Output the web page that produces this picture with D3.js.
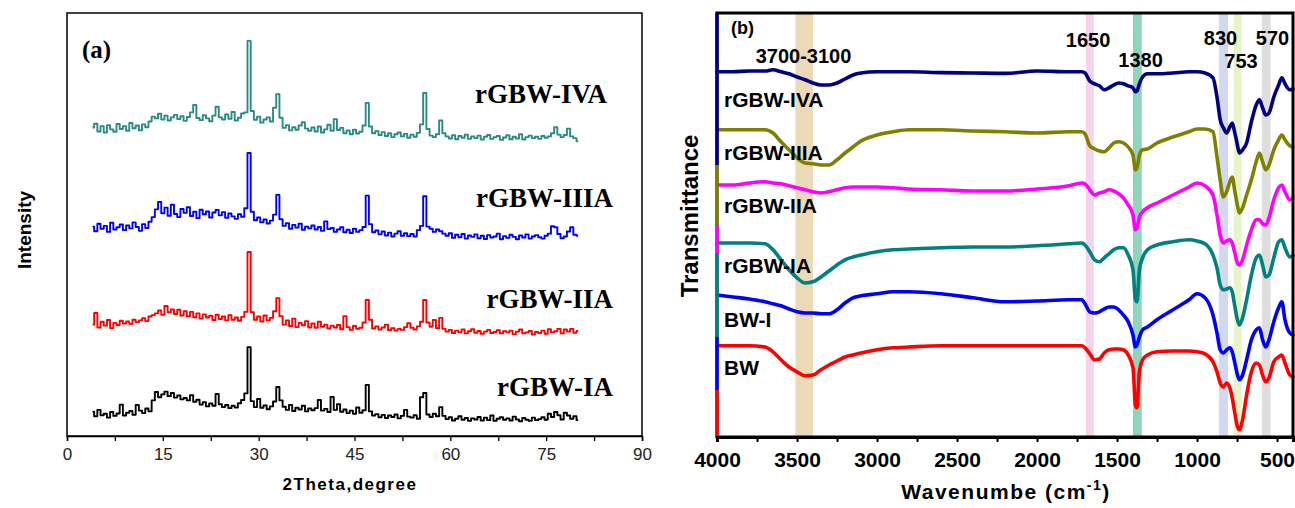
<!DOCTYPE html>
<html><head><meta charset="utf-8">
<script src="https://cdn.jsdelivr.net/npm/d3@7"></script>
<style>body{margin:0;background:#fff}svg{display:block}</style>
</head><body>
<svg id="c" width="1295" height="508"></svg>
<script>
// ---------------- (a) XRD data ----------------
const xrdLabels = ["rGBW-IVA", "rGBW-IIIA", "rGBW-IIA", "rGBW-IA"];
const xrdColors = ["#2a8a84", "#0000ff", "#ff0000", "#000000"];
const xrdOffsets = [78, 50, 22, 0];
const xrdStart = 4, xrdStep = 0.5;
const xrdTicks = [0, 15, 30, 45, 60, 75, 90];
const xrdIVA = [
  9.5,10.6,8.4,9.9,8.1,10.2,9.0,8.3,10.5,9.1,
  9.9,8.6,10.8,9.3,10.1,8.7,10.4,9.6,11.2,12.6,
  12.1,13.4,11.8,12.9,11.5,12.4,13.1,11.9,12.7,11.4,
  12.5,13.8,15.9,12.2,11.6,13.0,12.1,11.3,12.9,15.4,
  12.4,11.8,13.2,12.0,13.9,11.5,12.3,13.5,13.8,34.1,
  14.2,11.7,12.6,10.9,11.8,12.4,11.2,15.1,19.0,12.3,
  9.4,10.2,8.7,9.6,8.9,10.1,11.0,9.2,8.6,9.5,
  8.4,9.8,8.1,9.0,10.3,8.6,11.9,8.8,9.4,7.9,
  8.7,7.6,8.9,7.8,8.3,10.1,16.5,9.8,7.9,8.5,
  7.4,8.2,7.1,7.9,6.8,7.6,8.1,7.0,7.7,6.6,
  7.5,6.9,8.0,10.4,19.3,9.1,7.2,6.8,7.6,11.5,
  7.9,7.0,6.4,7.3,6.2,7.1,6.6,7.5,6.3,7.0,
  6.5,7.2,6.1,6.9,7.4,6.3,6.8,7.1,6.0,6.7,
  7.3,6.2,6.9,6.4,7.6,6.1,6.8,7.2,6.5,6.9,
  6.3,7.1,6.6,7.0,7.9,9.6,7.5,6.8,7.4,9.2,
  7.0,6.5,5.6];
const xrdIIIA = [
  9.4,8.1,10.2,8.8,9.6,7.9,10.5,8.6,9.2,10.0,
  8.4,9.7,8.9,10.6,9.3,8.2,10.1,9.0,10.8,12.1,
  14.3,16.4,13.2,14.8,12.5,15.6,13.0,12.1,14.4,13.3,
  14.9,12.4,13.6,11.8,14.2,12.9,13.7,12.0,13.4,14.1,
  12.6,13.5,11.9,13.1,12.3,11.6,12.9,12.2,14.6,30.3,
  13.6,11.2,12.0,10.6,11.4,10.3,11.1,12.8,18.4,11.5,
  9.6,10.4,8.8,9.9,9.1,10.2,8.5,9.4,8.9,9.7,
  8.6,9.3,8.2,10.9,8.7,9.0,7.9,8.6,9.2,7.8,
  8.5,7.6,8.8,7.9,8.4,9.3,18.2,10.1,7.8,8.3,
  7.2,8.0,6.9,7.7,6.6,7.4,8.1,6.8,7.5,6.7,
  7.3,6.6,8.4,9.6,18.0,9.4,8.8,7.9,8.6,8.1,
  7.4,6.8,7.5,6.2,7.1,6.4,7.3,6.0,6.9,6.5,
  7.2,6.1,6.8,5.9,7.0,6.3,6.6,7.4,5.8,6.7,
  6.2,7.1,6.5,5.8,6.9,6.3,7.2,6.0,6.6,7.0,
  6.4,6.0,6.8,7.4,9.5,9.2,7.3,6.1,6.6,8.0,
  9.2,7.1,6.8];
const xrdIIA = [
  9.6,12.9,8.8,10.4,9.3,10.9,8.6,10.1,9.5,10.7,
  9.9,10.5,9.8,11.0,10.3,10.8,11.4,10.6,11.9,12.3,
  12.8,13.6,12.4,14.9,13.1,13.9,12.6,13.8,12.2,13.4,
  12.0,13.2,11.7,12.8,11.3,12.5,11.6,12.1,10.9,12.4,
  11.2,11.9,10.8,12.3,11.0,11.6,10.7,11.8,13.2,30.2,
  13.1,11.0,11.9,10.5,12.2,10.8,11.5,13.4,17.1,12.0,
  9.6,10.8,9.2,11.3,8.9,10.1,9.4,10.6,8.8,9.9,
  8.7,10.4,9.0,9.6,8.5,9.3,8.8,9.5,8.3,12.0,
  8.9,8.1,9.2,8.4,8.7,10.2,16.6,11.0,8.5,9.1,
  8.2,8.8,9.6,8.0,8.6,7.9,8.4,8.1,8.9,10.0,
  8.7,8.2,9.1,10.4,16.6,10.2,9.0,10.9,8.6,11.5,
  8.4,7.6,8.1,7.2,7.9,7.4,8.2,7.1,7.7,8.3,
  7.3,7.8,7.0,7.6,8.1,7.2,7.5,8.0,7.1,7.7,
  7.4,7.9,6.9,7.6,8.2,7.1,7.4,7.8,6.8,7.5,
  7.2,7.9,7.0,8.3,7.4,7.7,8.4,7.1,8.2,7.6,
  8.4,7.3,7.8];
const xrdIA = [
  6.9,5.6,7.4,5.9,6.3,5.2,6.8,5.7,6.4,8.9,
  5.8,6.6,7.1,6.0,8.8,7.2,6.5,7.8,7.0,10.1,
  12.5,11.0,11.8,12.6,11.3,12.2,10.9,11.5,10.4,10.8,
  10.1,11.6,9.7,10.3,8.9,9.6,8.4,9.2,8.6,11.9,
  9.0,8.2,8.8,7.9,8.6,8.1,9.3,10.2,12.1,25.2,
  9.9,8.2,10.5,8.0,8.7,7.6,8.4,9.8,13.9,10.1,
  8.3,7.4,8.8,7.1,8.0,7.5,8.6,7.0,7.8,7.3,
  7.9,10.2,7.2,7.7,6.8,11.1,7.4,9.0,6.9,7.5,
  6.5,7.2,6.3,8.1,6.6,7.3,14.5,7.0,5.8,6.2,
  5.3,6.0,5.1,5.8,5.4,6.1,5.0,5.7,7.4,5.5,
  5.2,5.9,4.9,11.0,12.2,6.1,5.4,6.3,5.6,8.2,
  5.7,4.8,5.3,4.4,4.9,5.6,4.6,5.1,4.3,5.0,
  4.7,5.4,4.4,5.2,4.5,5.8,4.3,4.9,5.3,4.6,
  5.0,4.4,5.5,4.7,4.2,5.1,4.6,4.3,5.2,4.5,
  4.8,5.3,4.6,6.3,5.4,6.8,5.9,4.7,6.6,5.8,
  4.9,5.6,4.5];
const xrdSeries = [xrdIVA, xrdIIIA, xrdIIA, xrdIA];

// ---------------- (b) FTIR data ----------------
const ftirWave = [4000,3900,3800,3700,3650,3600,3550,3500,3450,3400,
  3350,3300,3250,3200,3150,3100,3000,2900,2800,2600,
  2400,2200,2000,1800,1720,1700,1670,1640,1610,1580,
  1550,1520,1490,1460,1430,1400,1385,1375,1360,1340,
  1310,1250,1150,1050,1000,950,900,875,855,835,
  815,795,780,765,750,735,715,690,660,630,
  610,590,570,550,520,490,470,450,420,400];
const ftirLabels = ["rGBW-IVA", "rGBW-IIIA", "rGBW-IIA", "rGBW-IA", "BW-I", "BW"];
const ftirColors = ["#000080", "#808000", "#ff00ff", "#008080", "#0000ff", "#ff0000"];
const ftirIVA = [
  91.3,91.3,91.5,91.5,91.8,91.3,90.8,90,89.3,88.5,
  88,88,88.5,89.5,90.5,91,91.3,91.3,91.3,91.1,
  91,90.9,91.5,91.3,91.3,91,89,88.3,87.8,86.8,
  87.3,88,88.5,88.3,87.8,87.3,86.3,86.5,88.3,90,
  90.8,90.8,91,91.3,91.3,91,89.8,85,79.3,77.3,
  76,77.5,78.5,76.3,73.5,71,71.8,73.5,78.8,83,
  84.3,82.3,80.5,81,85,88,89.8,88.3,86.8,87];
const ftirIIIA = [
  76.8,76.8,76.8,76.8,76,73.8,71.8,69.8,68.5,68.3,
  68,68,69.3,71,72.5,74,75.5,76.3,76.8,76.8,
  76.5,76.3,76,76.3,76.3,75.8,72.8,72,71.5,71.3,
  72.3,73.5,73.8,73.5,72.5,70.5,66.8,67.3,70.5,71.8,
  72,73.5,75,76.3,77,77,76.3,70,64.3,60,
  61.3,63.8,65,61.8,58.5,56,57.3,60.5,64.3,68.8,
  71,68.8,66.8,68,71.8,74.3,75.5,74.3,72.8,72.5];
const ftirIIA = [
  63,63,63.5,63.8,63.5,63.3,62.8,62.3,61.8,61.3,
  61,61.3,61.8,62.3,62.5,62.5,62.5,62.3,62,61.8,
  61.5,61.5,62,62.8,63.5,63.3,61.8,60.5,61,61.3,
  61.8,61.5,60.8,59.8,58,55.5,51.8,52.3,55,56.3,
  57.3,58.5,60.5,62.5,63.5,62.8,60.5,55.5,50.5,48.5,
  49,49.3,48.5,46.3,43.8,43,44.3,48,51.8,54.3,
  54.3,53.3,53,54.8,59.3,62.3,63,61.3,59.3,59.8];
const ftirIA = [
  48.5,48.5,48.5,48.3,46.8,44.3,41.8,39.8,38.5,38.8,
  40,41.5,43,44.3,45,45.5,46.3,46.8,47,47.3,
  47.5,47.5,47.8,48.3,48.5,48,46.3,44.3,43.8,44.8,
  45.8,46.8,47.3,47.3,45.5,41.8,34.3,33.8,41.8,44.8,
  46.8,48,48.8,49.3,49,48.3,45.5,42.3,38,36.8,
  37,37.3,36.3,33,29.8,28,29.8,34.3,40.5,44.8,
  45.5,43,40,40.5,44.8,48.8,49.3,47.3,45,45.3];
const ftirBWI = [
  35.5,35,34.5,33.8,33.3,32.8,32,31.3,31,31,
  30.8,30.8,31.8,33.5,34.8,35.3,35.8,36.3,36.3,35.8,
  34.8,33.8,34,34.3,34.3,33.3,31.3,31,31.3,32,
  32.5,32.5,31.8,30.5,28.8,25.5,22.5,23,25,26.8,
  27.5,29.3,31.8,34.3,35.8,34.8,30.5,26,21.8,21,
  21.8,22.3,21.3,18.8,16,14.3,15.5,19.3,24.3,26.8,
  27.3,24.3,22.5,24.3,28.8,32.3,33.8,29.3,26,25.5];
const ftirBW = [
  22.8,22.8,22.8,22.5,21.3,19.3,17.5,16.3,15.3,15.5,
  16.8,18,19,20,20.5,21,21.8,22.3,22.5,22.8,
  22.8,22.8,22.8,22.8,22.8,22.3,20.8,19.3,19.5,21,
  21.8,22,22,21.8,20.5,17.3,8,7.3,16.3,19.3,
  20.5,21.3,21.5,21.5,21.3,20.8,18.8,16.3,13.5,12.5,
  13.5,12.3,9.8,6.3,3,1.8,4.3,10.5,16.3,18.5,
  18,15.5,13.8,14.8,18.8,20,20.5,18.5,15.5,15];
const ftirSeries = [ftirIVA, ftirIIIA, ftirIIA, ftirIA, ftirBWI, ftirBW];
const ftirTicks = [4000, 3500, 3000, 2500, 2000, 1500, 1000, 500];
// shaded bands [from, to] in cm-1
const bandRanges = [[3510, 3400], [1695, 1645], [1400, 1345], [863, 806], [770, 722], [595, 540]];
const bandColors = ["#ecd9b8", "#f5d3ea", "#8fd5bb", "#d2d9ee", "#e6f4c8", "#dedede"];
const peakTexts = ["3700-3100", "1650", "1380", "830", "753", "570"];
const peakAt = [3459, 1681, 1353, 853, 725, 528];
// stacked y-axis layer boundaries (transmittance units, top to bottom)
const layerBounds = [106, 68, 53, 46, 25, 11.75, 0];

// ---------------- drawing ----------------
const svg = d3.select("#c");
const SANS = "'Liberation Sans', Arial, Helvetica, sans-serif";
const SERIF = "'Liberation Serif', 'Times New Roman', serif";

// ===== panel (a) =====
const xL = d3.scaleLinear().domain([0, 90]).range([67, 642]);
const yL = d3.scaleLinear().domain([0, 120]).range([436, 13]);
const gA = svg.append("g");

const xrdLine = d3.line().x(d => xL(d[0])).y(d => yL(d[1])).curve(d3.curveStep);
xrdSeries.forEach((s, i) => {
  const pts = s.map((v, k) => [xrdStart + k * xrdStep, v + xrdOffsets[i]]);
  gA.append("path").attr("d", xrdLine(pts)).attr("fill", "none")
    .attr("stroke", xrdColors[i]).attr("stroke-width", 1.9).attr("stroke-linejoin", "round");
});

gA.append("rect").attr("x", xL(0)).attr("y", yL(120)).attr("width", xL(90) - xL(0))
  .attr("height", yL(0) - yL(120)).attr("fill", "none").attr("stroke", "#000").attr("stroke-width", 1.5);

const axA = gA.append("g").attr("transform", `translate(0,${yL(0)})`)
  .call(d3.axisBottom(xL).tickValues(d3.range(0, 90.1, 7.5)).tickSize(5).tickPadding(7)
    .tickFormat(d => xrdTicks.includes(d) ? d : ""));
axA.select(".domain").attr("stroke-width", 1.5);
axA.selectAll(".tick line").attr("stroke-width", 1.3);
axA.selectAll("text").attr("font-family", "'Liberation Sans Narrow', " + SANS)
  .attr("font-size", 17).attr("fill", "#222");

gA.append("text").attr("x", 82).attr("y", 58).text("(a)")
  .attr("font-family", SERIF).attr("font-weight", "bold").attr("font-size", 25);

const xrdLabelEnd = [607, 613, 613, 613];
const xrdLabelY = [103, 207, 308, 396];
xrdLabels.forEach((t, i) => {
  gA.append("text").attr("x", xrdLabelEnd[i]).attr("y", xrdLabelY[i]).attr("text-anchor", "end")
    .text(t).attr("font-family", SERIF).attr("font-weight", "bold").attr("font-size", 27);
});

gA.append("text").attr("transform", "translate(31,230) rotate(-90)").attr("text-anchor", "middle")
  .text("Intensity").attr("font-family", SANS).attr("font-weight", "bold").attr("font-size", 19);
gA.append("text").attr("x", 350).attr("y", 490).attr("text-anchor", "middle")
  .text("2Theta,degree").attr("font-family", SANS).attr("font-weight", "bold")
  .attr("font-size", 17).attr("letter-spacing", 1.5);

// ===== panel (b) =====
const xR = d3.scaleLinear().domain([4000, 400]).range([717, 1293]);
const yR = d3.scaleLinear().domain([0, 106]).range([437, 13]);
const gB = svg.append("g");

bandRanges.forEach((b, i) => {
  gB.append("rect").attr("x", xR(b[0])).attr("width", xR(b[1]) - xR(b[0]))
    .attr("y", yR(106)).attr("height", yR(0) - yR(106)).attr("fill", bandColors[i]);
});

const ftirLine = d3.line().x(d => xR(d[0])).y(d => yR(d[1])).curve(d3.curveMonotoneX);
ftirSeries.forEach((s, i) => {
  const pts = ftirWave.map((w, k) => [w, s[k]]);
  gB.append("path").attr("d", ftirLine(pts)).attr("fill", "none")
    .attr("stroke", ftirColors[i]).attr("stroke-width", 3.6)
    .attr("stroke-linejoin", "round").attr("stroke-linecap", "round");
});

gB.append("rect").attr("x", xR(4000)).attr("y", yR(106)).attr("width", xR(400) - xR(4000))
  .attr("height", yR(0) - yR(106)).attr("fill", "none").attr("stroke", "#000").attr("stroke-width", 3);

// coloured stacked-layer y axes
for (let i = 0; i < 6; i++) {
  gB.append("line").attr("x1", xR(4000)).attr("x2", xR(4000))
    .attr("y1", yR(layerBounds[i])).attr("y2", yR(layerBounds[i + 1]))
    .attr("stroke", ftirColors[i]).attr("stroke-width", 3.5);
}

const axB = gB.append("g").attr("transform", `translate(0,${yR(0)})`)
  .call(d3.axisBottom(xR).tickValues(d3.range(4000, 399, -250)).tickSize(5).tickPadding(10)
    .tickFormat(d => ftirTicks.includes(d) ? d : ""));
axB.select(".domain").attr("stroke-width", 3);
axB.selectAll(".tick line").attr("stroke-width", 2);
axB.selectAll("text").attr("font-family", SANS).attr("font-weight", "bold").attr("font-size", 21);

gB.append("text").attr("x", 731).attr("y", 34).text("(b)")
  .attr("font-family", SANS).attr("font-weight", "bold").attr("font-size", 18);

const peakY = [63, 47, 67, 45, 68, 45];
peakTexts.forEach((t, i) => {
  gB.append("text").attr("x", xR(peakAt[i])).attr("y", peakY[i]).attr("text-anchor", "middle")
    .text(t).attr("font-family", SANS).attr("font-weight", "bold").attr("font-size", 20);
});

const ftirLabelY = [107, 160, 213, 273, 327, 375];
ftirLabels.forEach((t, i) => {
  gB.append("text").attr("x", 724).attr("y", ftirLabelY[i]).text(t)
    .attr("font-family", SANS).attr("font-weight", "bold").attr("font-size", 21);
});

gB.append("text").attr("transform", "translate(698,216) rotate(-90)").attr("text-anchor", "middle")
  .text("Transmittance").attr("font-family", SANS).attr("font-weight", "bold").attr("font-size", 24);

const xt = gB.append("text").attr("x", 1006).attr("y", 499).attr("text-anchor", "middle")
  .attr("font-family", SANS).attr("font-weight", "bold").attr("font-size", 21).attr("letter-spacing", 1.5);
xt.append("tspan").text("Wavenumbe (cm");
xt.append("tspan").text("-1").attr("font-size", 14).attr("dy", -9);
xt.append("tspan").text(")").attr("dy", 9);
</script>
</body></html>
